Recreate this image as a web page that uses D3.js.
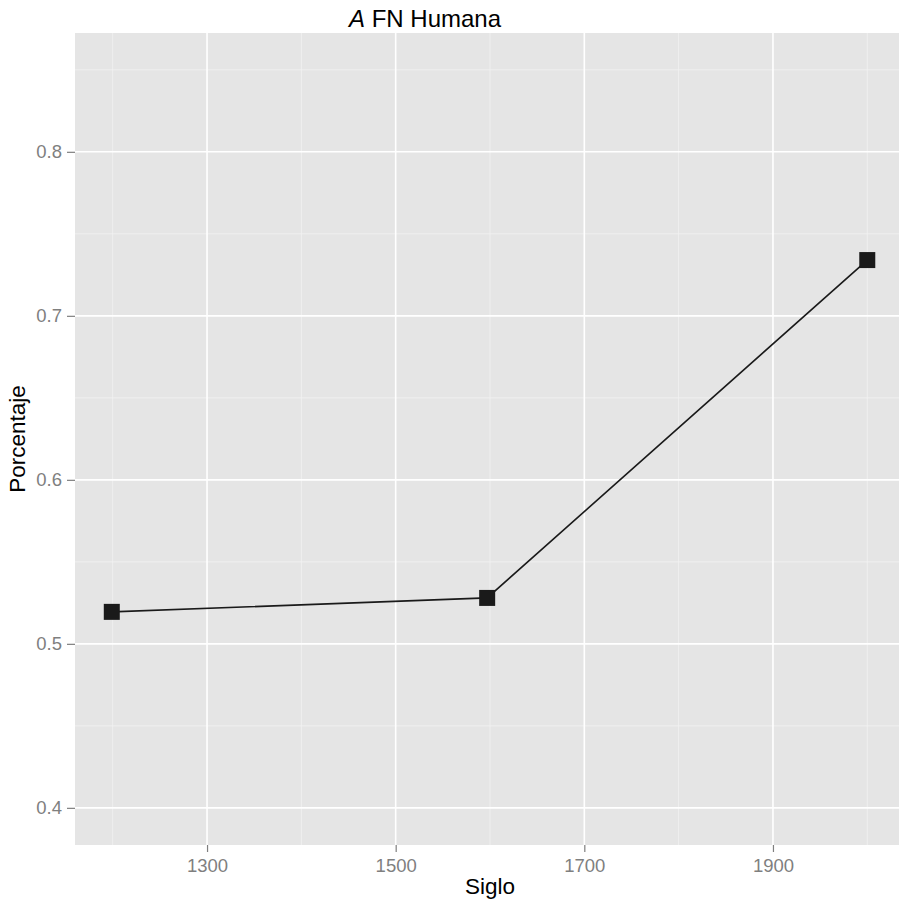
<!DOCTYPE html>
<html>
<head>
<meta charset="utf-8">
<script src="https://cdn.jsdelivr.net/npm/d3@7"></script>
<style>
  html, body { margin: 0; padding: 0; background: #fff; }
  svg { display: block; }
  text { font-family: "Liberation Sans", Arial, sans-serif; }
</style>
</head>
<body>
<div id="chart"></div>
<script>
const siglos = [1199, 1597, 2000];
const porcentajes = [0.5195, 0.528, 0.734];
const xMajorTicks = [1300, 1500, 1700, 1900];
const xMinorTicks = [1200, 1400, 1600, 1800, 2000];
const yMajorTicks = [0.4, 0.5, 0.6, 0.7, 0.8];
const yMinorTicks = [0.45, 0.55, 0.65, 0.75, 0.85];

const W = 899, H = 902;
const panel = { left: 75, top: 33, right: 905, bottom: 845 };

const svg = d3.select("#chart").append("svg")
  .attr("width", W).attr("height", H);

const x = d3.scaleLinear().domain([1160, 2040]).range([panel.left, panel.right]);
const y = d3.scaleLinear().domain([0.37735, 0.87245]).range([panel.bottom, panel.top]);

// panel background
svg.append("rect")
  .attr("x", panel.left).attr("y", panel.top)
  .attr("width", panel.right - panel.left).attr("height", panel.bottom - panel.top)
  .attr("fill", "#e5e5e5");

const grid = svg.append("g");
// minor grid
grid.selectAll(".ymin").data(yMinorTicks).enter().append("line")
  .attr("x1", panel.left).attr("x2", panel.right)
  .attr("y1", d => y(d)).attr("y2", d => y(d))
  .attr("stroke", "#f2f2f2").attr("stroke-width", 0.8);
grid.selectAll(".xmin").data(xMinorTicks).enter().append("line")
  .attr("y1", panel.top).attr("y2", panel.bottom)
  .attr("x1", d => x(d)).attr("x2", d => x(d))
  .attr("stroke", "#f2f2f2").attr("stroke-width", 0.8);
// major grid
grid.selectAll(".ymaj").data(yMajorTicks).enter().append("line")
  .attr("x1", panel.left).attr("x2", panel.right)
  .attr("y1", d => y(d)).attr("y2", d => y(d))
  .attr("stroke", "#ffffff").attr("stroke-width", 1.6);
grid.selectAll(".xmaj").data(xMajorTicks).enter().append("line")
  .attr("y1", panel.top).attr("y2", panel.bottom)
  .attr("x1", d => x(d)).attr("x2", d => x(d))
  .attr("stroke", "#ffffff").attr("stroke-width", 1.6);

// axes
const xAxis = d3.axisBottom(x).tickValues(xMajorTicks).tickSize(7).tickPadding(6.5).tickFormat(d3.format("d"));
const yAxis = d3.axisLeft(y).tickValues(yMajorTicks).tickSize(8).tickPadding(5).tickFormat(d3.format(".1f"));

const gx = svg.append("g").attr("transform", `translate(0,${panel.bottom})`).call(xAxis);
const gy = svg.append("g").attr("transform", `translate(${panel.left},0)`).call(yAxis);
[gx, gy].forEach(g => {
  g.select(".domain").remove();
  g.selectAll(".tick line").attr("stroke", "#7f7f7f").attr("stroke-width", 1.2);
  g.selectAll(".tick text").attr("fill", "#7f7f7f").attr("font-size", "18.5px")
    .attr("font-family", "'Liberation Sans', Arial, sans-serif");
});

// line and points
const line = d3.line().x((d, i) => x(siglos[i])).y(d => y(d));
svg.append("path").datum(porcentajes)
  .attr("d", line).attr("fill", "none")
  .attr("stroke", "#1a1a1a").attr("stroke-width", 1.6);

const s = 16;
svg.selectAll(".pt").data(porcentajes).enter().append("rect")
  .attr("x", (d, i) => x(siglos[i]) - s / 2)
  .attr("y", d => y(d) - s / 2)
  .attr("width", s).attr("height", s)
  .attr("fill", "#1a1a1a");

// titles
const title = svg.append("text")
  .attr("x", 425).attr("y", 27)
  .attr("text-anchor", "middle")
  .attr("font-size", "24px").attr("fill", "#000");
title.append("tspan").attr("font-style", "italic").text("A");
title.append("tspan").text(" FN Humana");

svg.append("text")
  .attr("x", (panel.left + panel.right) / 2).attr("y", 894)
  .attr("text-anchor", "middle").attr("font-size", "22.5px").attr("fill", "#000")
  .text("Siglo");

svg.append("text")
  .attr("transform", `translate(25,${(panel.top + panel.bottom) / 2}) rotate(-90)`)
  .attr("text-anchor", "middle").attr("font-size", "22.5px").attr("fill", "#000")
  .text("Porcentaje");
</script>
</body>
</html>
